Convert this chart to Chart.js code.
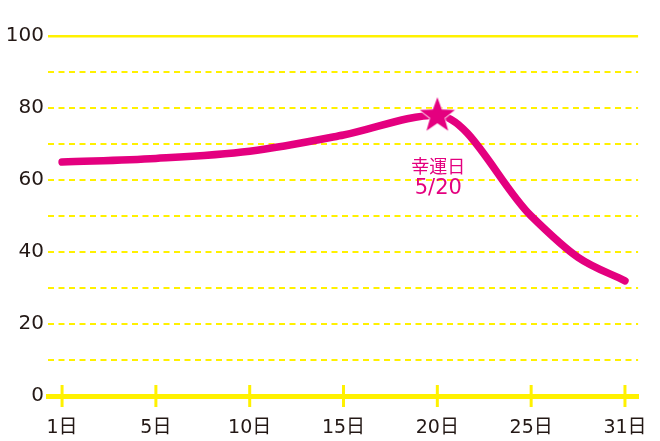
<!DOCTYPE html>
<html>
<head>
<meta charset="utf-8">
<script src="https://cdn.jsdelivr.net/npm/chart.js@4"></script>
<style>
  html, body { margin: 0; padding: 0; background: #fff; }
</style>
</head>
<body>
<canvas id="myChart" width="660" height="441" style="display:block"></canvas>
<script>
// categories on the x axis (evenly spaced)
var days = ['1日', '5日', '10日', '15日', '20日', '25日', '31日'];
// curve: position on the category axis, value
var curvePos = [0, 1, 2, 3, 4, 5, 5.5, 6];
var curveVal = [65, 66, 68, 72.5, 78, 50, 38.5, 32];
// lucky day marker
var luckyIndex = 4;
var luckyValue = 78;
var luckyText = ['幸運日', '5/20'];
var yTicks = [0, 20, 40, 60, 80, 100];

var pink = '#e4007f';
var yellow = '#fff100';
var font = '"DejaVu Sans", "Noto Sans CJK JP", sans-serif';

// filled five point star used as the marker
var star = document.createElement('canvas');
star.width = 40; star.height = 40;
(function () {
  var c = star.getContext('2d');
  var R = 18.5, r = 7.6, cx = 20, cy = 20.5;
  c.beginPath();
  for (var i = 0; i < 10; i++) {
    var rad = i % 2 === 0 ? R : r;
    var a = -Math.PI / 2 + i * Math.PI / 5;
    c.lineTo(cx + rad * Math.cos(a), cy + rad * Math.sin(a));
  }
  c.closePath();
  c.fillStyle = pink;
  c.fill();
  c.lineWidth = 1.5;
  c.strokeStyle = '#fff';
  c.stroke();
  c.fill();
})();

var extras = {
  id: 'extras',
  beforeDatasetsDraw: function (chart) {
    // tick marks crossing the base line
    var ctx = chart.ctx, xs = chart.scales.x, ys = chart.scales.y;
    var y0 = ys.getPixelForValue(0);
    ctx.save();
    ctx.strokeStyle = yellow;
    ctx.lineWidth = 3;
    days.forEach(function (d, i) {
      var x = xs.getPixelForValue(i);
      ctx.beginPath();
      ctx.moveTo(x, y0 - 11);
      ctx.lineTo(x, y0 + 11);
      ctx.stroke();
    });
    ctx.restore();
  },
  afterDatasetsDraw: function (chart) {
    var ctx = chart.ctx, xs = chart.scales.x, ys = chart.scales.y;
    var x = xs.getPixelForValue(luckyIndex);
    var y = ys.getPixelForValue(luckyValue);
    ctx.save();
    ctx.fillStyle = pink;
    ctx.textAlign = 'center';
    ctx.textBaseline = 'middle';
    ctx.font = '18px "Noto Sans CJK JP", sans-serif';
    ctx.fillText(luckyText[0], x + 1, y + 51);
    ctx.font = '21px ' + font;
    ctx.fillText(luckyText[1], x + 1, y + 73);
    ctx.restore();
  }
};

var ctx = document.getElementById('myChart').getContext('2d');
var chart = new Chart(ctx, {
  type: 'line',
  data: {
    datasets: [{
      data: curveVal.map(function (v, i) { return { x: curvePos[i], y: v }; }),
      borderColor: pink,
      borderWidth: 7.5,
      borderCapStyle: 'round',
      cubicInterpolationMode: 'monotone',
      pointRadius: 0,
      fill: false,
      order: 2
    }, {
      data: [{ x: luckyIndex, y: luckyValue }],
      pointStyle: star,
      pointRadius: 18,
      showLine: false,
      order: 1
    }]
  },
  options: {
    responsive: false,
    animation: false,
    devicePixelRatio: 1,
    layout: { padding: { top: 36, right: 20, left: 0, bottom: 0 } },
    plugins: { legend: { display: false }, tooltip: { enabled: false } },
    scales: {
      x: {
        type: 'linear',
        min: -0.15,
        max: 6.14,
        afterBuildTicks: function (s) {
          s.ticks = days.map(function (d, i) { return { value: i }; });
        },
        afterFit: function (s) { s.height = 45; },
        grid: { display: false },
        border: { display: true, color: yellow, width: 5 },
        ticks: {
          autoSkip: false,
          maxRotation: 0,
          padding: 13,
          color: '#231815',
          font: { family: font, size: 19 },
          callback: function (v) { return days[v]; }
        }
      },
      y: {
        min: 0,
        max: 100,
        afterBuildTicks: function (s) {
          var t = [];
          for (var v = 0; v <= 100; v += 10) t.push({ value: v });
          s.ticks = t;
        },
        afterFit: function (s) { s.width = 48; },
        grid: {
          drawTicks: false,
          color: function (c) { return c.tick && c.tick.value === 0 ? 'rgba(0,0,0,0)' : yellow; },
          lineWidth: function (c) { return c.tick && c.tick.value === 100 ? 2.5 : 2; }
        },
        border: {
          display: false,
          dash: function (c) { return c.tick && c.tick.value === 100 ? [] : [6, 4.5]; }
        },
        ticks: {
          autoSkip: false,
          padding: 4,
          color: '#231815',
          font: { family: font, size: 20 },
          callback: function (v) { return yTicks.indexOf(v) >= 0 ? String(v) : ''; }
        }
      }
    }
  },
  plugins: [extras]
});
</script>
</body>
</html>
